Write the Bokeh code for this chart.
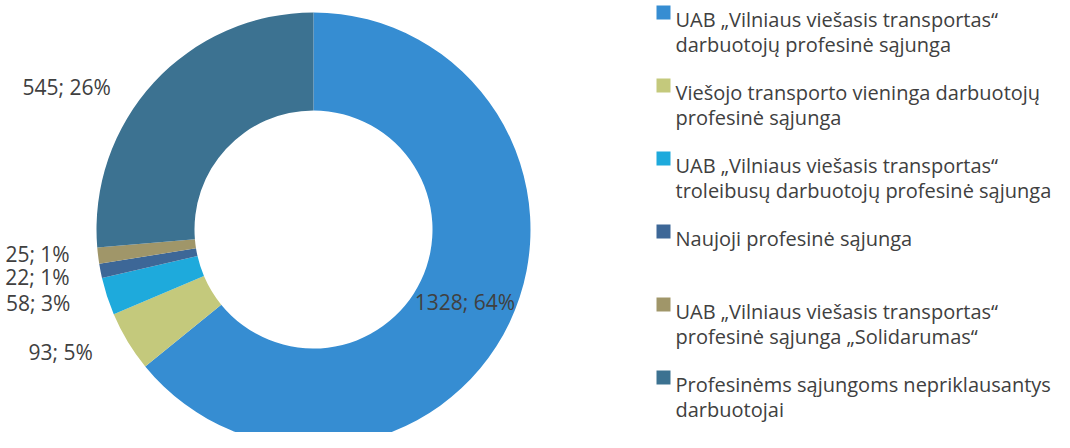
import numpy as np
from bokeh.plotting import figure
from bokeh.models import ColumnDataSource
from bokeh.core.properties import value
from bokeh.embed import file_html
from bokeh.resources import INLINE

# ---- data ----
categories = [
    "UAB „Vilniaus viešasis transportas“\ndarbuotojų profesinė sąjunga",
    "Viešojo transporto vieninga darbuotojų\nprofesinė sąjunga",
    "UAB „Vilniaus viešasis transportas“\ntroleibusų darbuotojų profesinė sąjunga",
    "Naujoji profesinė sąjunga",
    "UAB „Vilniaus viešasis transportas“\nprofesinė sąjunga „Solidarumas“",
    "Profesinėms sąjungoms nepriklausantys\ndarbuotojai",
]
counts = [1328, 93, 58, 22, 25, 545]
percent_labels = ["64%", "5%", "3%", "1%", "1%", "26%"]
colors = ["#368dd2", "#c4c97c", "#1eaadc", "#3d6797", "#a09669", "#3c7291"]

# ---- layout (pixel-like data units, y measured up from image bottom) ----
W, H = 1054, 432
IMG_H = 448
CX, CY = 313, IMG_H - 229
R_OUT, R_IN = 217, 119
label_ang = [-25.6, 205.9, 195.0, 189.7, 185.0, 150.0]
label_rad = [168, 281, 285, 280, 277, 285]
FONT = "Open Sans"
TXT = "#404040"

p = figure(width=W, height=H, x_range=(0, W), y_range=(IMG_H - H, IMG_H),
           output_backend="svg", toolbar_location=None, min_border=0)
p.axis.visible = False
p.grid.visible = False
p.outline_line_color = None
p.background_fill_color = "white"
p.border_fill_color = "white"

vals = np.array(counts, dtype=float)
frac = vals / vals.sum()
cum = np.concatenate([[0], np.cumsum(frac)])
start = np.pi / 2 - 2 * np.pi * cum[:-1]
end = np.pi / 2 - 2 * np.pi * cum[1:]

wsrc = ColumnDataSource(dict(start=start, end=end, color=colors))
p.annular_wedge(x=CX, y=CY, inner_radius=R_IN, outer_radius=R_OUT,
                start_angle="start", end_angle="end", direction="clock",
                fill_color="color", line_color=None, source=wsrc)

# data labels
la = np.radians(label_ang)
lx = CX + np.array(label_rad) * np.cos(la)
ly = CY + np.array(label_rad) * np.sin(la)
ltext = [f"{c}; {pc}" for c, pc in zip(counts, percent_labels)]
p.text(x=lx, y=ly, text=ltext, text_font=value(FONT), text_font_size="21px",
       text_color=TXT, text_align="center", text_baseline="middle")

# legend (manual)
LEG_X = 663
TXT_X = 675
base0 = 19
step = 73
line_h = 25
sq_x, sq_y, tx, ty, tt = [], [], [], [], []
for i, cat in enumerate(categories):
    b = base0 + i * step
    sq_x.append(LEG_X)
    sq_y.append(IMG_H - (b - 7))
    for j, line in enumerate(cat.split("\n")):
        tx.append(TXT_X)
        ty.append(IMG_H - (b + j * line_h))
        tt.append(line)
p.rect(x=sq_x, y=sq_y, width=14, height=14, fill_color=colors, line_color=None)
p.text(x=tx, y=ty, text=tt, text_font=value(FONT), text_font_size="20px",
       text_color=TXT, text_align="left", text_baseline="alphabetic")

open("out.html", "w").write(file_html(p, INLINE))
